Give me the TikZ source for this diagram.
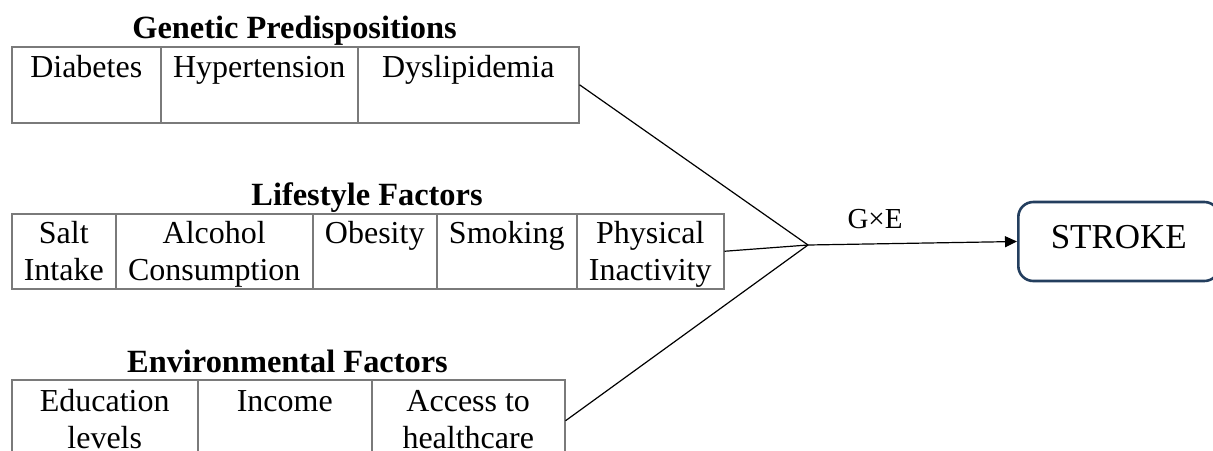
\documentclass[tikz,border=0pt]{standalone}
\usepackage{fontspec}
\setmainfont{Liberation Serif}
\usetikzlibrary{arrows.meta,calc}
\definecolor{boxgray}{HTML}{7A7A7A}
\definecolor{navy}{HTML}{233E5E}
\begin{document}
\begin{tikzpicture}[x=0.5pt,y=-0.5pt,
  cell/.style={draw=boxgray, line width=0.75pt, anchor=north west, inner sep=0pt},
  txt/.style={font=\fontsize{16}{18.75}\selectfont, align=center, inner sep=0pt, anchor=north},
  ttl/.style={font=\fontsize{16.2}{19}\selectfont\bfseries, inner sep=0pt, anchor=base},
  conn/.style={draw=black, line width=0.6pt},
  strokebox/.style={draw=navy, line width=1.3pt, rounded corners=7.5pt, anchor=west,
    font=\fontsize{17.5}{20}\selectfont, text height=11.5pt, text depth=5pt}]
\clip (0,0) rectangle (1213,450);
\fill[white] (0,0) rectangle (1213,450);

% Genetic predispositions
\node[ttl] (gt) at (294.5,38) {Genetic Predispositions};
\node[cell, minimum width=74.5pt, minimum height=38pt] (g1) at (11,46) {};
\node[cell, minimum width=98.5pt, minimum height=38pt] (g2) at (160,46) {};
\node[cell, minimum width=110.5pt, minimum height=38pt] (g3) at (357,46) {};
\node[txt, yshift=-2.2pt] (g1t) at (g1.north) {\strut Diabetes};
\node[txt, yshift=-2.2pt] (g2t) at (g2.north) {\strut Hypertension};
\node[txt, yshift=-2.2pt] (g3t) at (g3.north) {\strut Dyslipidemia};

% Lifestyle factors
\node[ttl] (lt) at (367,205) {Lifestyle Factors};
\node[cell, minimum width=52pt, minimum height=37.5pt] (l1) at (11,213) {};
\node[cell, minimum width=98.5pt, minimum height=37.5pt] (l2) at (115,213) {};
\node[cell, minimum width=62pt, minimum height=37.5pt] (l3) at (312,213) {};
\node[cell, minimum width=70pt, minimum height=37.5pt] (l4) at (436,213) {};
\node[cell, minimum width=73.5pt, minimum height=37.5pt] (l5) at (576,213) {};
\node[txt, yshift=-1.8pt] (l1t) at (l1.north) {\strut Salt\\Intake};
\node[txt, yshift=-1.8pt] (l2t) at (l2.north) {\strut Alcohol\\Consumption};
\node[txt, yshift=-1.8pt] (l3t) at (l3.north) {\strut Obesity};
\node[txt, yshift=-1.8pt] (l4t) at (l4.north) {\strut Smoking};
\node[txt, yshift=-1.8pt] (l5t) at (l5.north) {\strut Physical\\Inactivity};

% Environmental factors
\node[ttl] (et) at (287.5,372) {Environmental Factors};
\node[cell, minimum width=93pt, minimum height=41pt] (e1) at (11,379) {};
\node[cell, minimum width=87pt, minimum height=41pt] (e2) at (197,379) {};
\node[cell, minimum width=96.5pt, minimum height=41pt] (e3) at (371,379) {};
\node[txt, yshift=-2.8pt] (e1t) at (e1.north) {\strut Education\\levels};
\node[txt, yshift=-2.8pt] (e2t) at (e2.north) {\strut Income};
\node[txt, yshift=-2.8pt] (e3t) at (e3.north) {\strut Access to\\healthcare};

% Outcome
\node[strokebox, minimum width=100.5pt, minimum height=39.5pt] (stroke) at (1017,241.5) {STROKE};
\coordinate (J) at (808,245);
\node[font=\fontsize{14.5}{16}\selectfont, anchor=base, inner sep=0pt] (gxe) at (875,228) {G×E};

\draw[conn] (g3.east) -- (J);
\draw[conn] (l5.east) -- (J);
\draw[conn] (e3.east) -- (J);
\draw[conn, -{Triangle[length=6pt,width=5.5pt]}] (J) -- (stroke.west);
\end{tikzpicture}
\end{document}
